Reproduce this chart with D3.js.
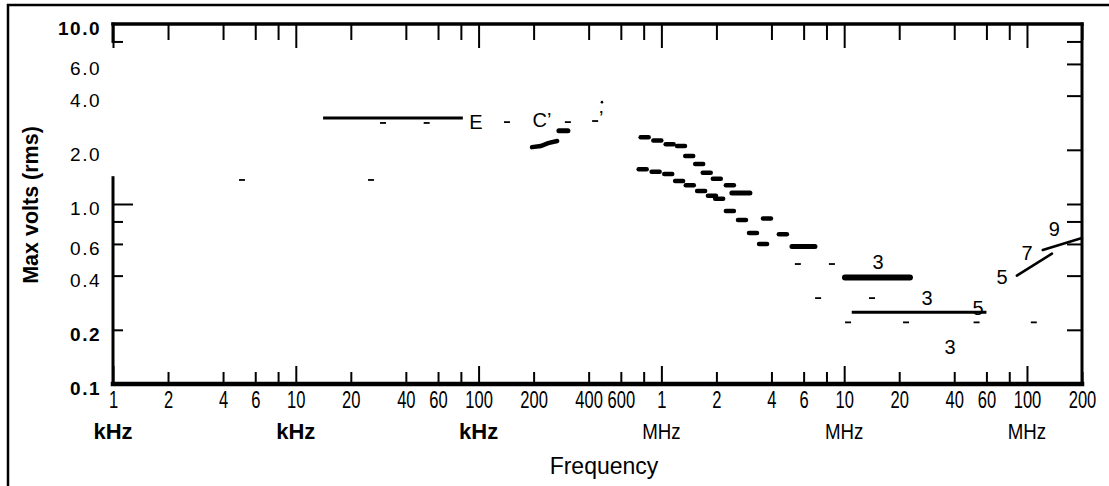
<!DOCTYPE html>
<html><head><meta charset="utf-8">
<script src="https://cdn.jsdelivr.net/npm/d3@7"></script>
<style>
body{margin:0;background:#fff}
svg{display:block}
text{font-family:"Liberation Sans",Arial,sans-serif;fill:#000}
</style>
</head><body><svg id="c" width="1109" height="486"></svg>
<script>
// ---------- data ----------
const xTickValues = [1e3,2e3,4e3,6e3,1e4,2e4,4e4,6e4,1e5,2e5,4e5,6e5,1e6,2e6,4e6,6e6,1e7,2e7,4e7,6e7,1e8,2e8];
const xTickLabels = ["1","2","4","6","10","20","40","60","100","200","400","600","1","2","4","6","10","20","40","60","100","200"];
const xMinorTicks = [8e3,8e4,8e5,8e6,8e7];
const unitLabels = [["kHz",1e3],["kHz",1e4],["kHz",1e5],["MHz",1e6],["MHz",1e7],["MHz",1e8]];
const yTickValues = [10,6,4,2,1,0.6,0.4,0.2,0.1];
const yTickLabels = ["10.0","6.0","4.0","2.0","1.0","0.6","0.4","0.2","0.1"];
const yLeftTicks = [8,1,0.8,0.6,0.4,0.2];
const yRightTicks = [8,6,4,2,1,0.8,0.6,0.4,0.2];

// limit lines: [fStart Hz, fEnd Hz, volts]
const limitLines = [[14.1e3,82e3,3.0],[11e6,60e6,0.25]];
// heavy bands: [fStart, fEnd, volts]
const heavyBands = [[10.1e6,22.9e6,0.39],[2.43e6,3.05e6,1.15],[5.18e6,6.92e6,0.58],[275e3,308e3,2.55]];
// upper measured series: [f, volts]
const upperSeries = [[810e3,2.35],[950e3,2.25],[1.11e6,2.15],[1.28e6,2.10],[1.42e6,1.85],[1.61e6,1.67],[1.77e6,1.49],[2.01e6,1.38],[2.37e6,1.27],[3.78e6,0.83],[4.62e6,0.68]];
// lower measured series: [f, volts]
const lowerSeries = [[790e3,1.56],[930e3,1.51],[1.09e6,1.47],[1.25e6,1.34],[1.43e6,1.27],[1.65e6,1.18],[1.89e6,1.11],[2.07e6,1.07],[2.37e6,0.915],[2.76e6,0.815],[3.17e6,0.69],[3.60e6,0.60]];
// step near 200 kHz
const stepLine = [[196e3,2.07],[219e3,2.10],[240e3,2.18],[269e3,2.24]];
// sloped limits above 80 MHz
const slopeLines = [[[88e6,0.40],[137e6,0.53]],[[122e6,0.555],[200e6,0.647]]];
// small dash markers: [f, volts]
const smallDashes = [[5.08e3,1.36],[25.8e3,1.36],[30e3,2.82],[52e3,2.82],[143e3,2.85],[308e3,2.85],[434e3,2.89],
  [5.58e6,0.464],[8.57e6,0.464],[7.2e6,0.30],[14.2e6,0.30],[10.5e6,0.22],[21.8e6,0.22],[53e6,0.22],[109e6,0.22]];
// stray dot markers: [f, volts]
const dotMarks = [[473e3,3.68]];
// annotations: [text, f, volts]
const annotations = [["E",96.8e3,2.85],["C\u2019",222e3,2.93],["\u2019",468e3,3.0],
  ["3",15.3e6,0.476],["3",28.4e6,0.30],["5",54e6,0.265],["3",37.9e6,0.16],["5",73e6,0.393],["7",100e6,0.534],["9",141e6,0.726]];

// ---------- chart ----------
const svg = d3.select("#c");
svg.append("rect").attr("width",1109).attr("height",486).attr("fill","#fff");
const x = d3.scaleLog().domain([1e3,2e8]).range([113,1082]);
const y = d3.scaleLog().domain([0.1,10]).range([384,24]);
const X0 = x.range()[0], X1 = x.range()[1], Y0 = y.range()[0], Y1 = y.range()[1];

// outer frame (top + left)
svg.append("path").attr("d",`M8,486 L8,5 L1109,5`).attr("fill","none").attr("stroke","#000").attr("stroke-width",2.5);

// bottom axis with labels
const isDecade = d => Math.abs(Math.log10(d) - Math.round(Math.log10(d))) < 1e-9;
const allTicks = xTickValues.concat(xMinorTicks).sort((a,b)=>a-b);
const gB = svg.append("g").attr("transform",`translate(0,${Y0})`)
  .call(d3.axisBottom(x).tickValues(xTickValues).tickFormat((d,i)=>xTickLabels[i]).tickSize(0).tickPadding(8));
gB.select(".domain").remove();
gB.selectAll("text").attr("font-size",23).attr("transform","scale(0.72,1)").attr("fill","#000");
const gB2 = svg.append("g").attr("transform",`translate(0,${Y0})`)
  .call(d3.axisBottom(x).tickValues(allTicks).tickFormat("").tickSize(-12));
gB2.select(".domain").remove();
gB2.selectAll("line").attr("y2",d=>isDecade(d)? -18 : -12).attr("stroke","#000").attr("stroke-width",2);

// top axis ticks
const gT = svg.append("g").attr("transform",`translate(0,${Y1})`)
  .call(d3.axisTop(x).tickValues(allTicks).tickFormat("").tickSize(-12));
gT.select(".domain").remove();
gT.selectAll("line").attr("y2",d=>isDecade(d)? 24 : 16).attr("stroke","#000").attr("stroke-width",2);

// left axis labels
const gL = svg.append("g").attr("transform",`translate(${X0},0)`)
  .call(d3.axisLeft(y).tickValues(yTickValues).tickFormat((d,i)=>yTickLabels[i]).tickSize(0).tickPadding(12));
gL.select(".domain").remove();
gL.selectAll("text").attr("font-size",19).attr("letter-spacing","1.5px").attr("dy","0.55em").attr("fill","#000")
  .attr("font-weight",d=>(d===10||d===0.1||d===0.2)?"bold":"normal");
// left ticks
const gL2 = svg.append("g").attr("transform",`translate(${X0},0)`)
  .call(d3.axisLeft(y).tickValues(yLeftTicks).tickFormat("").tickSize(-10));
gL2.select(".domain").remove();
gL2.selectAll("line").attr("x2",d=>d===1?20:10).attr("stroke","#000").attr("stroke-width",2);

// right ticks
const gR = svg.append("g").attr("transform",`translate(${X1},0)`)
  .call(d3.axisRight(y).tickValues(yRightTicks).tickFormat("").tickSize(-15));
gR.select(".domain").remove();
gR.selectAll("line").attr("stroke","#000").attr("stroke-width",2);

// spines
const spine = svg.append("g").attr("stroke","#000").attr("fill","none").attr("stroke-linecap","square");
spine.append("line").attr("x1",X0).attr("x2",X1).attr("y1",Y0).attr("y2",Y0).attr("stroke-width",4.5);
spine.append("line").attr("x1",X0).attr("x2",X1).attr("y1",Y1).attr("y2",Y1).attr("stroke-width",3.5);
spine.append("line").attr("x1",X1).attr("x2",X1).attr("y1",Y1).attr("y2",Y0).attr("stroke-width",3);
spine.append("line").attr("x1",X0).attr("x2",X0).attr("y1",y(10)).attr("y2",y(8)).attr("stroke-width",3);
spine.append("line").attr("x1",X0).attr("x2",X0).attr("y1",y(1.4)).attr("y2",Y0).attr("stroke-width",3);

// unit labels
svg.append("g").selectAll("text").data(unitLabels).join("text")
  .attr("transform",d=>`translate(${x(d[1])},439) scale(${d[0]==="MHz"?0.85:1},1)`).attr("text-anchor","middle")
  .attr("font-size",22).attr("font-weight",d=>d[0]==="kHz"?"bold":"normal")
  .text(d=>d[0]);

// axis titles
svg.append("text").attr("x",604).attr("y",474).attr("text-anchor","middle").attr("font-size",23).text("Frequency");
svg.append("text").attr("transform","translate(38,205) rotate(-90)").attr("text-anchor","middle")
  .attr("font-size",21.5).attr("font-weight","bold").text("Max volts (rms)");

// data marks
const marks = svg.append("g").attr("stroke","#000").attr("fill","none");
marks.selectAll(".lim").data(limitLines).join("line")
  .attr("x1",d=>x(d[0])).attr("x2",d=>x(d[1])).attr("y1",d=>y(d[2])).attr("y2",d=>y(d[2])).attr("stroke-width",3);
marks.selectAll(".band").data(heavyBands).join("line")
  .attr("x1",d=>x(d[0])).attr("x2",d=>x(d[1])).attr("y1",d=>y(d[2])).attr("y2",d=>y(d[2]))
  .attr("stroke-width",(d,i)=>i===0?6:5).attr("stroke-linecap","round");
marks.selectAll(".pt").data(upperSeries.concat(lowerSeries)).join("line")
  .attr("x1",d=>x(d[0])-4).attr("x2",d=>x(d[0])+4).attr("y1",d=>y(d[1])).attr("y2",d=>y(d[1]))
  .attr("stroke-width",4.5).attr("stroke-linecap","round");
marks.append("path").attr("d",d3.line().x(d=>x(d[0])).y(d=>y(d[1]))(stepLine)).attr("stroke-width",4.5).attr("stroke-linecap","round");
marks.selectAll(".slope").data(slopeLines).join("path")
  .attr("d",d=>d3.line().x(p=>x(p[0])).y(p=>y(p[1]))(d)).attr("stroke-width",2.5).attr("stroke-linecap","round");
marks.selectAll(".sd").data(smallDashes).join("line")
  .attr("x1",d=>x(d[0])-3).attr("x2",d=>x(d[0])+3).attr("y1",d=>y(d[1])).attr("y2",d=>y(d[1])).attr("stroke-width",1.8);
svg.append("g").selectAll("circle").data(dotMarks).join("circle")
  .attr("cx",d=>x(d[0])).attr("cy",d=>y(d[1])).attr("r",1.3).attr("fill","#000");

svg.append("g").selectAll("text").data(annotations).join("text")
  .attr("x",d=>x(d[1])).attr("y",d=>y(d[2])).attr("text-anchor","middle").attr("dominant-baseline","central")
  .attr("font-size",20).text(d=>d[0]);
</script></body></html>
